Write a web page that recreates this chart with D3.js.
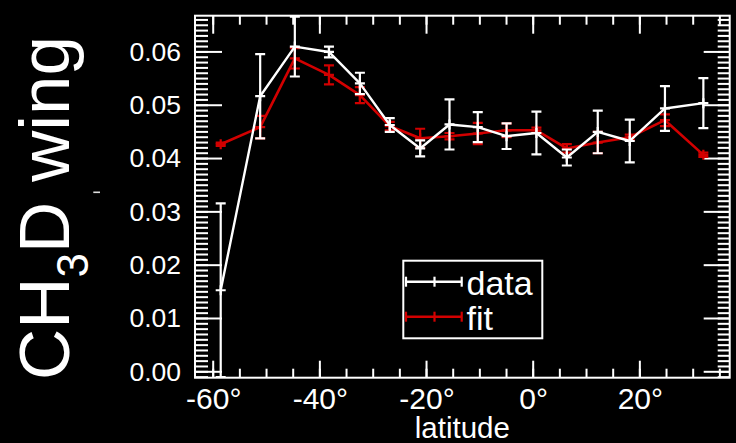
<!DOCTYPE html>
<html><head><meta charset="utf-8">
<script src="https://cdn.jsdelivr.net/npm/d3@7"></script>
<style>html,body{margin:0;padding:0;background:#000;} svg{display:block;}</style>
</head><body>
<script>
// ---- data ----
const latitude   = [-58.5, -51.1, -44.6, -38.2, -32.4, -26.8, -21.1, -15.6, -10.3, -4.9, 0.7, 6.4, 12.2, 18.2, 24.8, 32.0];
const dataValues = [0.0152, 0.0516, 0.0609, 0.0599, 0.0540, 0.0462, 0.0418, 0.0463, 0.0458, 0.0441, 0.0447, 0.0401, 0.0449, 0.0432, 0.0493, 0.0503];
const dataErrors = [0.0163, 0.0079, 0.0056, 0.0010, 0.0020, 0.0013, 0.0015, 0.0047, 0.0028, 0.0024, 0.0040, 0.0015, 0.0040, 0.0040, 0.0042, 0.0047];
const fitValues  = [0.0426, 0.0458, 0.0587, 0.0556, 0.0518, 0.0460, 0.0437, 0.0441, 0.0446, 0.0452, 0.0452, 0.0418, 0.0429, 0.0439, 0.0471, 0.0406];
const fitErrors  = [0.0003, 0.0021, 0.0019, 0.0018, 0.0015, 0.0008, 0.0018, 0.0006, 0.0020, 0.0013, 0.0005, 0.0008, 0.0020, 0.0005, 0.0011, 0.0004];
const xMajorTicks = [-60, -40, -20, 0, 20];
const xTickLabels = ["-60°", "-40°", "-20°", "0°", "20°"];
const xMinorTicks = [-60, -55, -50, -45, -40, -35, -30, -25, -20, -15, -10, -5, 0, 5, 10, 15, 20, 25, 30, 35];
const yMajorTicks = [0, 0.01, 0.02, 0.03, 0.04, 0.05, 0.06];
const yTickLabels = ["0.00", "0.01", "0.02", "0.03", "0.04", "0.05", "0.06"];
const yMinorTicks = d3.range(-1, 67).map(i => i / 1000);
const seriesNames = ["data", "fit"];
const seriesColors = ["#ffffff", "#d20000"];

// ---- layout ----
const W = 736, H = 443;
const L = 195, R = 729.7, T = 15.7, B = 377.7;
const FONT = "'Liberation Sans', Arial, Helvetica, sans-serif";

const x = d3.scaleLinear().domain([-63.32, 36.94]).range([L, R]);
const y = d3.scaleLinear().domain([-0.0012, 0.0667]).range([B, T]);

const svg = d3.select("body").append("svg").attr("width", W).attr("height", H)
  .style("background", "#000");
svg.append("rect").attr("width", W).attr("height", H).attr("fill", "#000");

svg.append("clipPath").attr("id", "plotclip").append("rect")
  .attr("x", L).attr("y", T).attr("width", R - L).attr("height", B - T);

// ---- axes ticks (inward) ----
function tickAxis(axisGen, tx, ty, values, size) {
  const g = svg.append("g").attr("transform", `translate(${tx},${ty})`)
    .call(axisGen.tickValues(values).tickSize(size).tickFormat(""));
  g.select(".domain").remove();
  g.selectAll(".tick line").attr("stroke", "#fff").attr("stroke-width", 2);
  return g;
}
tickAxis(d3.axisBottom(x), 0, B, xMinorTicks, -9);
tickAxis(d3.axisBottom(x), 0, B, xMajorTicks, -17);
tickAxis(d3.axisTop(x), 0, T, xMinorTicks, -9);
tickAxis(d3.axisTop(x), 0, T, xMajorTicks, -18);
tickAxis(d3.axisLeft(y), L, 0, yMinorTicks, -13);
tickAxis(d3.axisLeft(y), L, 0, yMajorTicks, -27);
tickAxis(d3.axisRight(y), R, 0, yMinorTicks, -12);
tickAxis(d3.axisRight(y), R, 0, yMajorTicks, -26);

// tick labels
svg.append("g").selectAll("text").data(xMajorTicks).join("text")
  .attr("x", d => x(d) + 1).attr("y", 408.7)
  .attr("text-anchor", "middle").attr("fill", "#fff")
  .attr("font-family", FONT).attr("font-size", 30)
  .text((d, i) => xTickLabels[i]);
svg.append("g").selectAll("text").data(yMajorTicks).join("text")
  .attr("x", 181).attr("y", d => y(d) + 9.4)
  .attr("text-anchor", "end").attr("fill", "#fff")
  .attr("font-family", FONT).attr("font-size", 26.5)
  .text((d, i) => yTickLabels[i]);

// axis titles
svg.append("text").attr("x", (L + R) / 2).attr("y", 437.5)
  .attr("text-anchor", "middle").attr("fill", "#fff")
  .attr("font-family", FONT).attr("font-size", 29.5).text("latitude");

const yt = svg.append("text")
  .attr("transform", "translate(69.3,380) rotate(-90)")
  .attr("fill", "#fff").attr("font-family", FONT).attr("font-size", 71);
yt.append("tspan").text("CH");
yt.append("tspan").attr("font-size", 44).attr("dy", 19).text("3");
yt.append("tspan").attr("dy", -19).text("D wing");

// small stray mark
svg.append("rect").attr("x", 93.3).attr("y", 191.5).attr("width", 6.7).attr("height", 1.6).attr("fill", "#ddd");

// ---- series ----
function drawSeries(values, errs, color, lw) {
  const g = svg.append("g").attr("clip-path", "url(#plotclip)");
  const pts = latitude.map((lat, i) => ({ lat, v: values[i], e: errs[i] }));
  const eb = g.append("g").attr("stroke", color).attr("stroke-width", 2.2).attr("fill", "none");
  eb.selectAll("line.v").data(pts).join("line").attr("class", "v")
    .attr("x1", d => x(d.lat)).attr("x2", d => x(d.lat))
    .attr("y1", d => y(d.v - d.e)).attr("y2", d => y(d.v + d.e));
  eb.selectAll("line.ct").data(pts).join("line").attr("class", "ct")
    .attr("x1", d => x(d.lat) - 5).attr("x2", d => x(d.lat) + 5)
    .attr("y1", d => y(d.v + d.e)).attr("y2", d => y(d.v + d.e));
  eb.selectAll("line.cb").data(pts).join("line").attr("class", "cb")
    .attr("x1", d => x(d.lat) - 5).attr("x2", d => x(d.lat) + 5)
    .attr("y1", d => y(d.v - d.e)).attr("y2", d => y(d.v - d.e));
  g.append("path").datum(pts)
    .attr("d", d3.line().x(d => x(d.lat)).y(d => y(d.v)))
    .attr("fill", "none").attr("stroke", color).attr("stroke-width", lw)
    .attr("stroke-linejoin", "round");
  const pm = g.append("g").attr("stroke", color).attr("stroke-width", 2.2);
  pm.selectAll("line.h").data(pts).join("line").attr("class", "h")
    .attr("x1", d => x(d.lat) - 5).attr("x2", d => x(d.lat) + 5)
    .attr("y1", d => y(d.v)).attr("y2", d => y(d.v));
  pm.selectAll("line.vv").data(pts).join("line").attr("class", "vv")
    .attr("x1", d => x(d.lat)).attr("x2", d => x(d.lat))
    .attr("y1", d => y(d.v) - 5).attr("y2", d => y(d.v) + 5);
}
drawSeries(fitValues, fitErrors, seriesColors[1], 2.6);
drawSeries(dataValues, dataErrors, seriesColors[0], 2.4);

// frame
svg.append("rect").attr("x", L).attr("y", T).attr("width", R - L).attr("height", B - T)
  .attr("fill", "none").attr("stroke", "#fff").attr("stroke-width", 2);

// ---- legend ----
const lg = svg.append("g");
lg.append("rect").attr("x", 403.3).attr("y", 260.7).attr("width", 139).attr("height", 77.6)
  .attr("fill", "#000").attr("stroke", "#fff").attr("stroke-width", 2);
const legendY = [281.7, 316.7];
const legendTicks = [406, 434.5, 461.7];
seriesNames.forEach((name, i) => {
  const c = seriesColors[i];
  lg.append("line").attr("x1", 406).attr("x2", 461.7).attr("y1", legendY[i]).attr("y2", legendY[i])
    .attr("stroke", c).attr("stroke-width", 2.4);
  lg.selectAll(null).data(legendTicks).join("line")
    .attr("x1", d => d).attr("x2", d => d).attr("y1", legendY[i] - 5).attr("y2", legendY[i] + 5)
    .attr("stroke", c).attr("stroke-width", 2.2);
  lg.append("text").attr("x", 466.5).attr("y", legendY[i] + 13)
    .attr("fill", "#fff").attr("font-family", FONT).attr("font-size", 34).text(name);
});
</script>
</body></html>
